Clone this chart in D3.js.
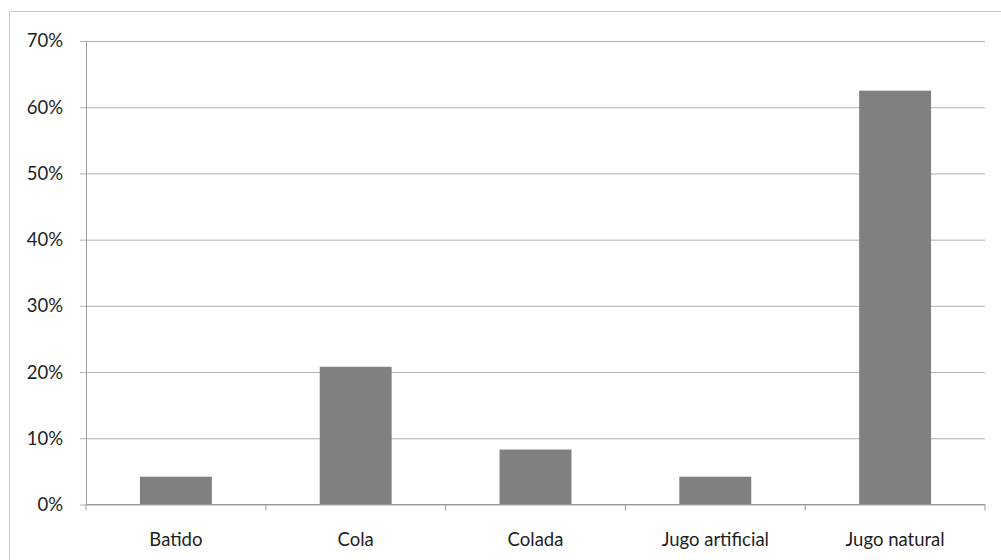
<!DOCTYPE html>
<html>
<head>
<meta charset="utf-8">
<script src="https://cdn.jsdelivr.net/npm/d3@7"></script>
<style>
  html, body { margin: 0; padding: 0; background: #fff; }
  svg { display: block; }
  text { font-family: Lato, "Open Sans", sans-serif; fill: #1e1e1e; }
</style>
</head>
<body>
<svg id="chart" width="1001" height="560"></svg>
<script>
// Preferred drink, share of respondents
const categories = ["Batido", "Cola", "Colada", "Jugo artificial", "Jugo natural"];
const shares = [0.042, 0.208, 0.083, 0.042, 0.625];
const yTicks = [0, 0.1, 0.2, 0.3, 0.4, 0.5, 0.6, 0.7];

const svg = d3.select("#chart");
const W = 1001, H = 560;
const plot = { left: 86, right: 985, top: 41, bottom: 504.5 };

// chart frame
svg.append("rect")
  .attr("x", 9.5).attr("y", 11.5)
  .attr("width", W + 10).attr("height", H + 10)
  .attr("fill", "none").attr("stroke", "#c8c8c8").attr("stroke-width", 1);

const x = d3.scaleBand()
  .domain(categories)
  .range([plot.left, plot.right])
  .paddingInner(0.6).paddingOuter(0.3);

const xOuter = d3.scaleBand().domain(categories).range([plot.left, plot.right]);

const y = d3.scaleLinear().domain([0, 0.7]).range([plot.bottom, plot.top]);

// horizontal gridlines with outward ticks
const grid = svg.append("g").attr("transform", `translate(${plot.left},0)`)
  .call(d3.axisLeft(y).tickValues(yTicks)
    .tickSize(-(plot.right - plot.left)).tickSizeOuter(0)
    .tickFormat(""));
grid.select(".domain").remove();
grid.selectAll(".tick line")
  .attr("x1", -6)
  .attr("stroke", "#b0b0b0").attr("stroke-width", 1);

// y tick labels
svg.append("g").selectAll("text")
  .data(yTicks).join("text")
  .attr("x", 63).attr("y", d => y(d))
  .attr("dy", "0.35em")
  .attr("text-anchor", "end")
  .attr("font-size", 18.5)
  .text(d3.format(".0%"));

// y axis line
svg.append("line")
  .attr("x1", plot.left + 0.5).attr("x2", plot.left + 0.5)
  .attr("y1", plot.top).attr("y2", plot.bottom)
  .attr("stroke", "#999");

// bars
svg.append("g").selectAll("rect")
  .data(categories).join("rect")
  .attr("x", d => x(d))
  .attr("width", x.bandwidth())
  .attr("y", (d, i) => y(shares[i]))
  .attr("height", (d, i) => y(0) - y(shares[i]))
  .attr("fill", "#808080");

// x axis with ticks at category boundaries
const xb = svg.append("g").attr("transform", `translate(0,${plot.bottom})`);
xb.append("line")
  .attr("x1", plot.left).attr("x2", plot.right)
  .attr("stroke", "#999");
const bounds = categories.map(c => xOuter(c)).concat([plot.right]);
xb.selectAll("line.tk").data(bounds).join("line")
  .attr("class", "tk")
  .attr("x1", d => d).attr("x2", d => d)
  .attr("y1", 0).attr("y2", 6)
  .attr("stroke", "#999");

svg.append("g").selectAll("text")
  .data(categories).join("text")
  .attr("x", d => xOuter(d) + xOuter.bandwidth() / 2)
  .attr("y", 546)
  .attr("text-anchor", "middle")
  .attr("font-size", 18.5)
  .text(d => d);
</script>
</body>
</html>
